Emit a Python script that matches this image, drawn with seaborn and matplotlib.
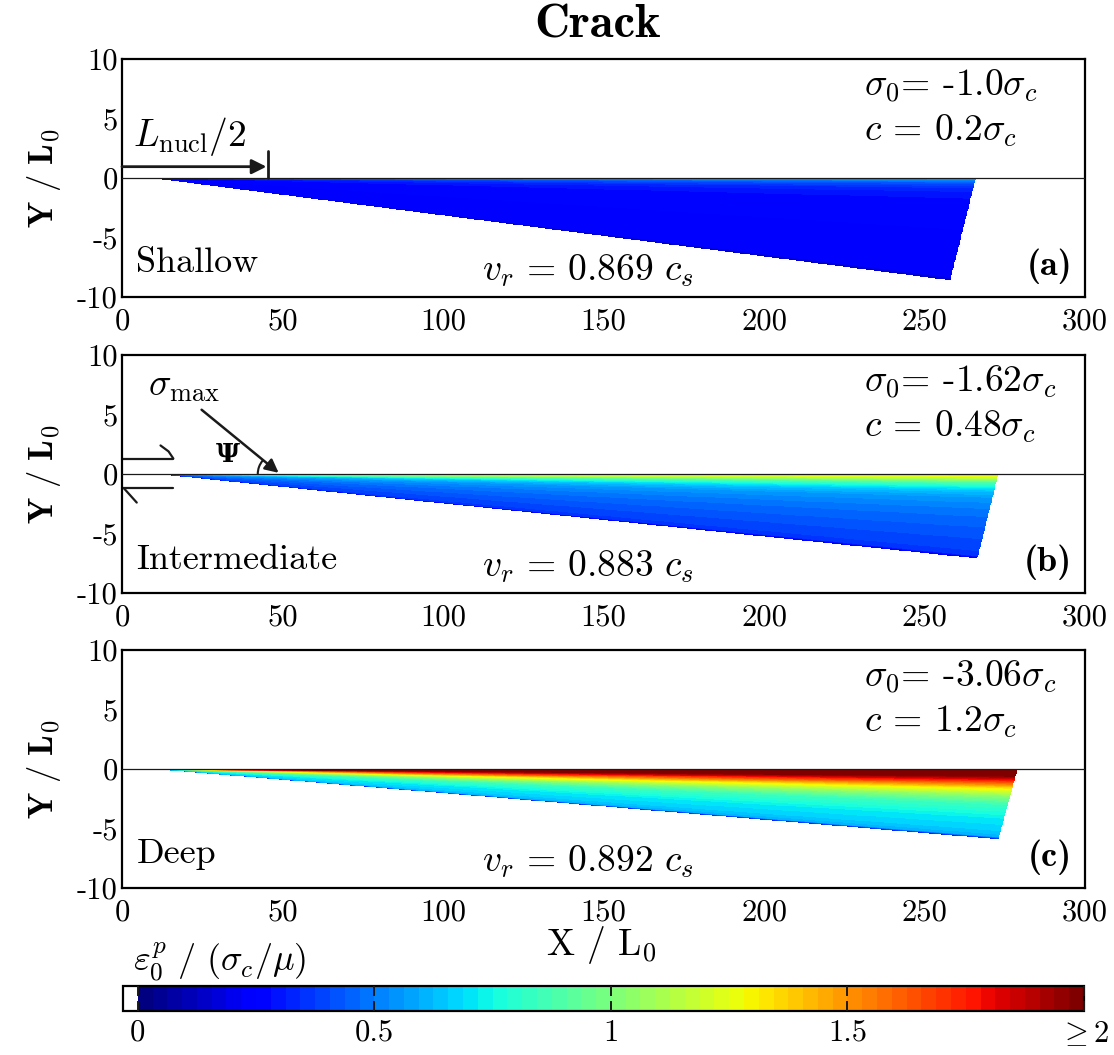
import numpy as np
import matplotlib
matplotlib.use('Agg')
import matplotlib.pyplot as plt
from matplotlib.colors import ListedColormap, Normalize
from matplotlib.cm import ScalarMappable
from matplotlib.patches import Arc
import seaborn as sns

# --- values ---
panel_tags = ['(a)', '(b)', '(c)']
regimes = ['Shallow', 'Intermediate', 'Deep']
sigma0 = ['-1.0', '-1.62', '-3.06']
cohesion = ['0.2', '0.48', '1.2']
v_rupture = ['0.869', '0.883', '0.892']

# plastic zone outline, X/L0 and Y/L0
x_start = [9.0, 11.0, 9.5]
x_deep = [258.0, 266.5, 273.0]
y_deep = [-8.6, -7.1, -5.9]
x_tip = [266.0, 273.0, 279.0]

# plastic strain against relative depth below the fault
depth_frac = [0.0, 0.05, 0.1, 0.15, 0.2, 0.28, 0.38, 0.5, 0.7, 0.9, 0.97, 1.0]
strain_a = [0.62, 0.42, 0.34, 0.30, 0.28, 0.27, 0.26, 0.25, 0.24, 0.23, 0.22, 0.12]
strain_b = [1.40, 1.15, 0.90, 0.75, 0.64, 0.56, 0.51, 0.47, 0.42, 0.38, 0.35, 0.20]
strain_c = [2.3, 2.2, 2.0, 1.8, 1.6, 1.3, 1.05, 0.85, 0.72, 0.65, 0.60, 0.30]
strains = [strain_a, strain_b, strain_c]

xticks = [0, 50, 100, 150, 200, 250, 300]
yticks = [10, 5, 0, -5, -10]
cb_ticks = [0, 0.5, 1, 1.5, 2]
cb_labels = ['0', '0.5', '1', '1.5', r'$\geq$2']

# --- style ---
sns.set_theme(style='white')
plt.rcParams['font.family'] = ['cmr10']
plt.rcParams['mathtext.fontset'] = 'cm'
plt.rcParams['axes.unicode_minus'] = False
plt.rcParams['axes.formatter.use_mathtext'] = True
for key in ['text.color', 'axes.labelcolor', 'xtick.color', 'ytick.color', 'axes.edgecolor']:
    plt.rcParams[key] = 'black'

n_jet = 64
jet = matplotlib.colormaps['jet'].resampled(n_jet)
cmap = ListedColormap(['white'] + [jet(k) for k in range(n_jet)])
norm = Normalize(vmin=-2.0 / n_jet, vmax=2.0)

fig = plt.figure(figsize=(11.14, 10.55), dpi=100)
ax_pos = [[0.1095, 0.7185, 0.8645, 0.2256],
          [0.1095, 0.4379, 0.8645, 0.2256],
          [0.1095, 0.1583, 0.8645, 0.2256]]

xg = np.linspace(0, 300, 1501)
yg = np.linspace(-10, 0, 501)
X, Y = np.meshgrid(xg, yg)

for i in range(3):
    ax = fig.add_axes(ax_pos[i])
    # lower edge of the wedge and its right flank
    low = y_deep[i] * (X - x_start[i]) / (x_deep[i] - x_start[i])
    right = x_tip[i] + (x_deep[i] - x_tip[i]) * (Y / y_deep[i])
    inside = (X >= x_start[i]) & (Y >= low) & (X <= right) & (Y >= y_deep[i])
    rel = np.clip(Y / np.where(low < 0, low, -1e-9), 0, 1)
    vals = np.interp(rel, depth_frac, strains[i])
    vals = np.ma.masked_where(~inside, np.clip(vals, 0, 2))
    ax.pcolormesh(X, Y, vals, cmap=cmap, norm=norm, shading='nearest', rasterized=True)
    ax.axhline(0, color='k', lw=0.9, zorder=3)

    ax.set_xlim(0, 300)
    ax.set_ylim(-10, 10)
    ax.set_xticks(xticks)
    ax.set_xticklabels([str(t) for t in xticks])
    ax.set_yticks(yticks)
    ax.set_yticklabels([str(t) for t in yticks])
    ax.tick_params(axis='both', length=0, labelsize=22)
    ax.tick_params(axis='x', pad=8)
    ax.tick_params(axis='y', pad=3)
    for s in ax.spines.values():
        s.set_linewidth(1.6)
    ax.set_ylabel(r'$\mathbf{Y\ /\ L_0}$', fontsize=25, labelpad=10)

    ax.text(231, 7.7, r'$\sigma_0$= ' + sigma0[i] + r'$\sigma_c$', fontsize=27, va='center')
    ax.text(231, 4.0, r'$c$ = ' + cohesion[i] + r'$\sigma_c$', fontsize=27, va='center')
    ax.text(4.5, -7.2, regimes[i], fontsize=26, va='center')
    ax.text(145, -7.8, r'$v_r\,=\,$' + v_rupture[i] + r'$\ c_s$', fontsize=27, va='center', ha='center')
    ax.text(296, -7.4, panel_tags[i], family='cmb10', fontsize=26, va='center', ha='right')

    if i == 0:
        ax.annotate('', xy=(45, 0.95), xytext=(0, 0.95),
                    arrowprops=dict(arrowstyle='-|>', color='k', lw=2, mutation_scale=22,
                                    shrinkA=0, shrinkB=0))
        ax.plot([45.5, 45.5], [0, 2.3], color='k', lw=2)
        ax.text(3.5, 1.7, r'$L_{\rm nucl}/2$', fontsize=27, va='bottom')
    if i == 1:
        ax.annotate('', xy=(48.8, 0.1), xytext=(24.8, 5.4),
                    arrowprops=dict(arrowstyle='-|>', color='k', lw=1.8, mutation_scale=20,
                                    shrinkA=0, shrinkB=0))
        ax.text(8, 7.3, r'$\sigma_{\rm max}$', fontsize=27, va='center')
        ax.text(33, 1.6, '\u03a8', family='DejaVu Serif', fontweight='bold', fontsize=19,
                va='center', ha='center')
        ax.add_patch(Arc((48.8, 0), 13, 3.5, theta1=167, theta2=180, color='k', lw=1.5))
        ax.plot([0, 16], [1.3, 1.3], color='k', lw=1.6, clip_on=False)
        ax.plot([16, 14.5, 12], [1.3, 1.9, 2.4], color='k', lw=1.6)
        ax.plot([0, 16], [-1.2, -1.2], color='k', lw=1.6, clip_on=False)
        ax.plot([0.6, 2.6, 4.6], [-1.2, -1.8, -2.4], color='k', lw=1.6)

fig.text(0.536, 0.976, 'Crack', family='cmb10', fontsize=35, ha='center', va='center')
fig.text(0.54, 0.104, r'X / L$_0$', fontsize=27, ha='center', va='center')
fig.text(0.119, 0.088, r'$\varepsilon_0^p\ /\ (\sigma_c/\mu)$', fontsize=26, ha='left', va='center')

cax = fig.add_axes([0.1104, 0.0417, 0.8627, 0.0237])
cb = fig.colorbar(ScalarMappable(norm=norm, cmap=cmap), cax=cax, orientation='horizontal',
                  ticks=cb_ticks)
cb.ax.set_axisbelow(False)
cb.ax.set_xticklabels(cb_labels)
cb.ax.tick_params(axis='x', direction='in', top=True, bottom=True, length=7.5, width=1.4,
                  color='k', labelsize=22, pad=6)
cb.outline.set_linewidth(1.6)

fig.savefig('out.png', dpi=100)
